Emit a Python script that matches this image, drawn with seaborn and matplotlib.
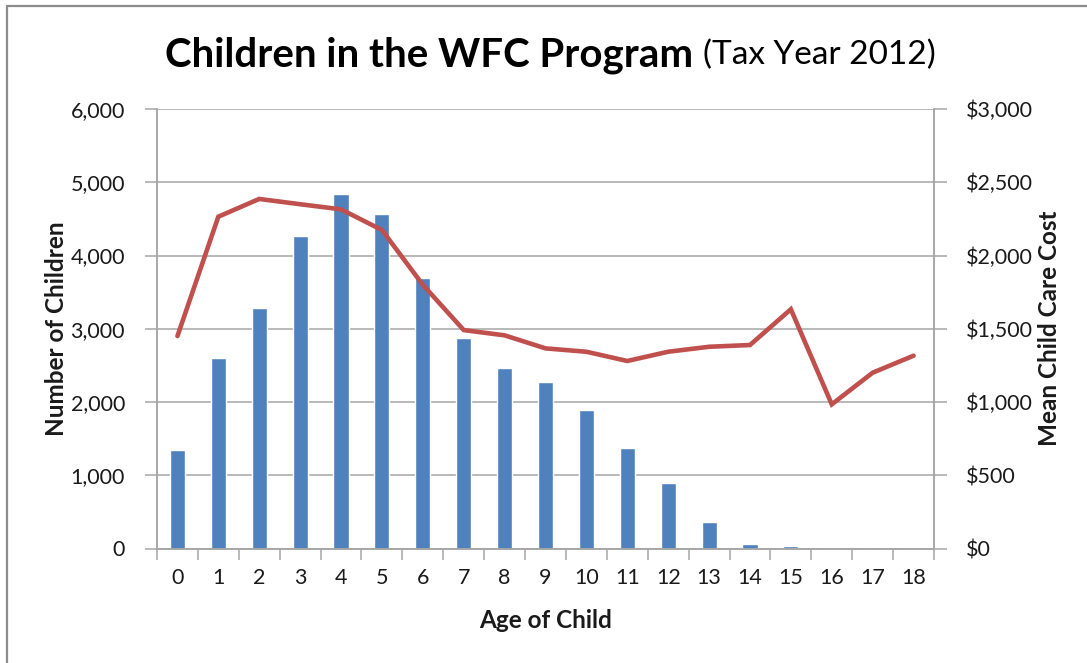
import matplotlib

matplotlib.use("Agg")
import matplotlib.pyplot as plt
import numpy as np
import pandas as pd
import seaborn as sns
from matplotlib.lines import Line2D
from matplotlib.ticker import FuncFormatter, MultipleLocator

ages = [str(a) for a in range(19)]
children = [1350, 2600, 3290, 4270, 4840, 4560, 3690, 2870, 2470, 2275,
            1890, 1375, 890, 360, 60, 30, 20, 20, 0]
mean_cost = [1450, 2265, 2386, 2350, 2315, 2174, 1800, 1491, 1455, 1366,
             1343, 1280, 1343, 1377, 1389, 1633, 984, 1200, 1316]

df = pd.DataFrame({"age": ages, "children": children, "cost": mean_cost})
df["pos"] = np.arange(len(df))

sns.set_theme(style="white")
plt.rcParams["font.family"] = ["Lato", "DejaVu Sans"]

BLUE = "#4F81BD"
RED = "#C0504D"
GRID = "#A6A6A6"
TXT = "#1a1a1a"

fig = plt.figure(figsize=(10.87, 6.63), dpi=100)
ax = fig.add_axes([157 / 1087, 1 - 548.5 / 663, 777 / 1087, 439.5 / 663])

sns.barplot(data=df, x="age", y="children", color=BLUE, width=0.37,
            saturation=1, ax=ax, zorder=2)
ax.set_xlim(-0.5, 18.5)
ax.set_ylim(0, 6000)
ax.yaxis.set_major_locator(MultipleLocator(1000))
ax.yaxis.set_major_formatter(FuncFormatter(lambda v, p: f"{int(v):,}"))
ax.grid(axis="y", color=GRID, linewidth=1.1, zorder=0)
ax.set_axisbelow(True)

ax2 = ax.twinx()
sns.lineplot(data=df, x="pos", y="cost", color=RED, linewidth=3.3, ax=ax2,
             solid_joinstyle="miter")
ax2.set_xlim(-0.5, 18.5)
ax2.set_ylim(0, 3000)
ax2.yaxis.set_major_locator(MultipleLocator(500))
ax2.yaxis.set_major_formatter(FuncFormatter(lambda v, p: f"${int(v):,}"))

for a in (ax, ax2):
    a.spines["top"].set_visible(False)
    for side in ("left", "right", "bottom"):
        a.spines[side].set_color(GRID)
        a.spines[side].set_linewidth(1.1)

ax.set_xticks(np.arange(-0.5, 19, 1), minor=False)
ax.set_xticklabels([])
ax.set_xticks(np.arange(19), minor=True)
ax.set_xticklabels(ages, minor=True)
ax.tick_params(axis="x", which="major", direction="out", length=8, width=1.1,
               color=GRID, bottom=True)
ax.tick_params(axis="x", which="minor", length=0, pad=14, labelsize=15.5,
               labelcolor=TXT)
ax.tick_params(axis="y", direction="out", length=9, width=1.1, color=GRID,
               left=True, pad=14, labelsize=15.5, labelcolor=TXT)
ax2.tick_params(axis="y", direction="out", length=9, width=1.1, color=GRID,
                right=True, pad=14, labelsize=15.5, labelcolor=TXT)

ax.set_xlabel("Age of Child", fontsize=17.5, fontweight="bold", color=TXT)
ax.xaxis.set_label_coords(0.5, -0.163)
ax.xaxis.label.set_va("center")
ax.set_ylabel("Number of Children", fontsize=17.5, fontweight="bold",
              color=TXT)
ax.yaxis.set_label_coords(-0.129, 0.5)
ax.yaxis.label.set_va("center")
ax2.set_ylabel("Mean Child Care Cost", fontsize=17.5, fontweight="bold",
               color=TXT)
ax2.yaxis.set_label_coords(1.149, 0.5)
ax2.yaxis.label.set_va("center")
ax2.yaxis.label.set_rotation(90)

# title: bold part + normal part, centred together
t1 = fig.text(0, 1 - 55 / 663, "Children in the WFC Program", fontsize=29,
              fontweight="bold", color="black", va="center", ha="left")
t2 = fig.text(0, 1 - 55 / 663, "(Tax Year 2012)", fontsize=24,
              color="black", va="center", ha="left")
fig.canvas.draw()
r = fig.canvas.get_renderer()
w1 = t1.get_window_extent(r).width
w2 = t2.get_window_extent(r).width
gap = 10
start = 550 - (w1 + gap + w2) / 2
t1.set_x(start / 1087)
t2.set_x((start + w1 + gap) / 1087)

# frame pieces of the chart area
fig.add_artist(Line2D([7 / 1087, 7 / 1087], [0, 1 - 6 / 663], color="#8C8C8C",
                      linewidth=1.6, transform=fig.transFigure))
fig.add_artist(Line2D([7 / 1087, 1], [1 - 6 / 663, 1 - 6 / 663],
                      color="#8C8C8C", linewidth=1.6, transform=fig.transFigure))

fig.savefig("out.png", dpi=100, facecolor="white")
